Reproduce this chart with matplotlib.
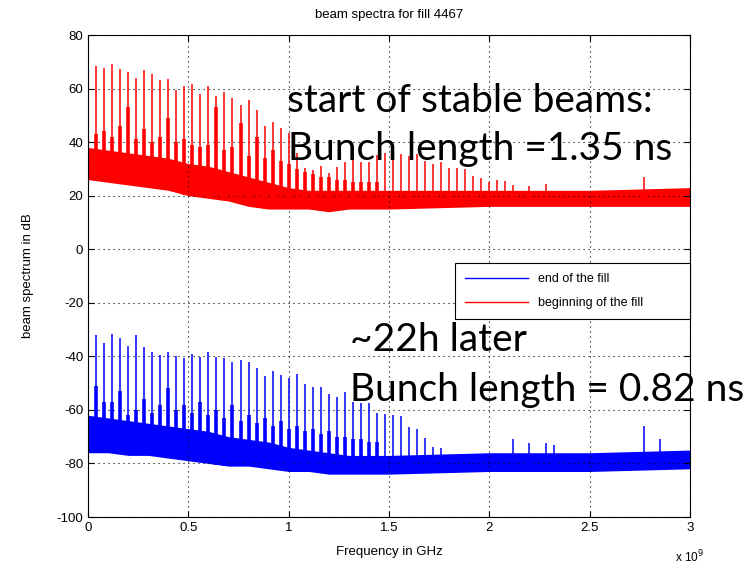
import numpy as np
import matplotlib
matplotlib.use('Agg')
import matplotlib.pyplot as plt

plt.rcParams['axes.unicode_minus'] = False

# harmonic frequencies (GHz) of the 40 MHz bunch spectrum lines
red_peak_f = [0.04, 0.08, 0.12, 0.16, 0.20, 0.24, 0.28, 0.32, 0.36, 0.40,
              0.44, 0.48, 0.52, 0.56, 0.60, 0.64, 0.68, 0.72, 0.76, 0.80,
              0.84, 0.88, 0.92, 0.96, 1.00, 1.04, 1.08, 1.12, 1.16, 1.20,
              1.24, 1.28, 1.32, 1.36, 1.40, 1.44, 1.48, 1.52, 1.56, 1.60,
              1.64, 1.68, 1.72, 1.76, 1.80, 1.84, 1.88, 1.92, 1.96, 2.00,
              2.04, 2.08, 2.12, 2.20, 2.28, 2.77]
red_peak_db = [68.3, 67.8, 69.3, 67.2, 66.2, 64.1, 66.8, 65.3, 63.1, 63.4,
               59.4, 60.9, 61.6, 58.1, 60.9, 57.1, 58.7, 56.3, 53.8, 55.9,
               51.9, 45.9, 47.5, 45.1, 43.3, 36.0, 30.5, 29.5, 31.0, 28.4,
               30.7, 32.6, 35.1, 32.6, 32.6, 35.1, 36.0, 37.0, 35.5, 35.0,
               35.5, 33.0, 32.0, 32.6, 30.5, 30.4, 30.0, 27.2, 26.5, 25.1,
               25.7, 25.5, 23.9, 23.5, 24.3, 26.8]

blue_peak_f = red_peak_f[:44] + [2.12, 2.20, 2.28, 2.32, 2.77, 2.85]
blue_peak_db = [-32.1, -35.2, -31.5, -33.0, -36.1, -32.1, -36.7, -38.3, -39.6, -38.3,
                -40.0, -40.8, -39.2, -40.2, -38.3, -40.2, -40.8, -42.0, -41.4, -42.0,
                -44.5, -47.4, -45.5, -47.0, -48.0, -46.6, -50.2, -51.4, -51.6, -53.9,
                -55.3, -53.5, -57.0, -57.5, -57.4, -61.1, -61.5, -62.0, -62.2, -66.4,
                -67.3, -70.4, -73.7, -74.3,
                -71.0, -72.5, -72.5, -73.0, -66.0, -71.0]

# broader (weaker) component at each harmonic
side_f = red_peak_f[:36]
red_side_db = [43, 44, 42, 46, 53, 41, 45, 40, 42, 49, 40, 41, 39, 38, 39, 53, 37, 38,
               47, 35, 42, 34, 37, 33, 32, 30, 29, 28, 27, 27, 26, 26, 25, 25, 25, 25]
blue_side_db = [-51, -57, -57, -53, -62, -60, -56, -61, -58, -52, -60, -58, -61, -57,
                -62, -60, -63, -58, -64, -62, -65, -63, -66, -64, -67, -66, -68, -67,
                -69, -68, -70, -70, -71, -71, -72, -72]

# noise floor envelope (GHz, dB)
floor_f = [0.0, 0.1, 0.2, 0.3, 0.4, 0.5, 0.6, 0.7, 0.8, 0.9, 1.0, 1.1, 1.2, 1.3,
           1.5, 2.0, 2.5, 3.0]
red_floor_lo = [26, 25, 24, 23, 22, 20, 19, 18, 16, 15, 15, 15, 14, 15, 15, 16, 16, 16]
red_floor_hi = [38, 37, 36, 35, 34, 32, 31, 29, 27, 25, 23, 22, 22, 22, 22, 22, 22, 23]
blue_floor_lo = [-76, -76, -77, -77, -78, -79, -80, -81, -81, -82, -83, -83, -84, -84,
                 -84, -83, -83, -82]
blue_floor_hi = [-62, -63, -64, -65, -66, -67, -68, -70, -71, -72, -74, -75, -76, -77,
                 -77, -76, -76, -75]

W, H = 754, 567
fig = plt.figure(figsize=(W / 100, H / 100), dpi=100)
ax = fig.add_axes([88 / W, 1 - 517 / H, 602 / W, 482 / H])
mfont = 'Liberation Sans'

for col, lo, hi, pf, pdb, sdb in [('#0000ff', blue_floor_lo, blue_floor_hi, blue_peak_f, blue_peak_db, blue_side_db),
                                  ('#ff0000', red_floor_lo, red_floor_hi, red_peak_f, red_peak_db, red_side_db)]:
    ax.fill_between(floor_f, lo, hi, color=col, lw=0)
    base = np.interp(side_f, floor_f, lo)
    ax.vlines(side_f, base, sdb, color=col, lw=2.6)
    base = np.interp(pf, floor_f, lo)
    ax.vlines(pf, base, pdb, color=col, lw=1.1)

ax.plot([], [], color='#0000ff', lw=1, label='end of the fill')
ax.plot([], [], color='#ff0000', lw=1, label='beginning of the fill')

ax.set_xlim(0, 3)
ax.set_ylim(-100, 80)
ax.set_xticks([0, 0.5, 1, 1.5, 2, 2.5, 3])
ax.set_xticklabels(['0', '0.5', '1', '1.5', '2', '2.5', '3'])
ax.set_yticks(range(-100, 81, 20))
ax.grid(True, color='black', linestyle=(0, (1, 3.5)), lw=0.8)
ax.tick_params(direction='in', top=True, right=True, length=4, labelsize=9.5)
for lab in ax.get_xticklabels() + ax.get_yticklabels():
    lab.set_family(mfont)
for s in ax.spines.values():
    s.set_linewidth(0.8)

ax.set_title('beam spectra for fill 4467', family=mfont, fontsize=9.5, pad=12)
ax.set_xlabel('Frequency in GHz', family=mfont, fontsize=9.5, labelpad=9)
ax.set_ylabel('beam spectrum in dB', family=mfont, fontsize=9.5, labelpad=16)
fig.text(675 / W, 1 - 562 / H, r'x 10$^9$', family=mfont, fontsize=8.5)

leg = ax.legend(loc='upper left', bbox_to_anchor=(0.61, 0.527, 0.39, 0.0), mode='expand',
                prop={'family': mfont, 'size': 9}, handlelength=5, fancybox=False,
                framealpha=1, edgecolor='black', borderaxespad=0, labelspacing=1.0,
                borderpad=0.8)
leg.get_frame().set_linewidth(0.8)

tf = 'Lato'
ts = 28
fig.text(287 / W, 1 - 112 / H, 'start of stable beams:', family=tf, fontsize=ts)
fig.text(288 / W, 1 - 160 / H, 'Bunch length =1.35 ns', family=tf, fontsize=ts)
fig.text(350 / W, 1 - 351 / H, '~22h later', family=tf, fontsize=ts)
fig.text(350 / W, 1 - 401 / H, 'Bunch length = 0.82 ns', family=tf, fontsize=ts)

fig.savefig('out.png', dpi=100)
